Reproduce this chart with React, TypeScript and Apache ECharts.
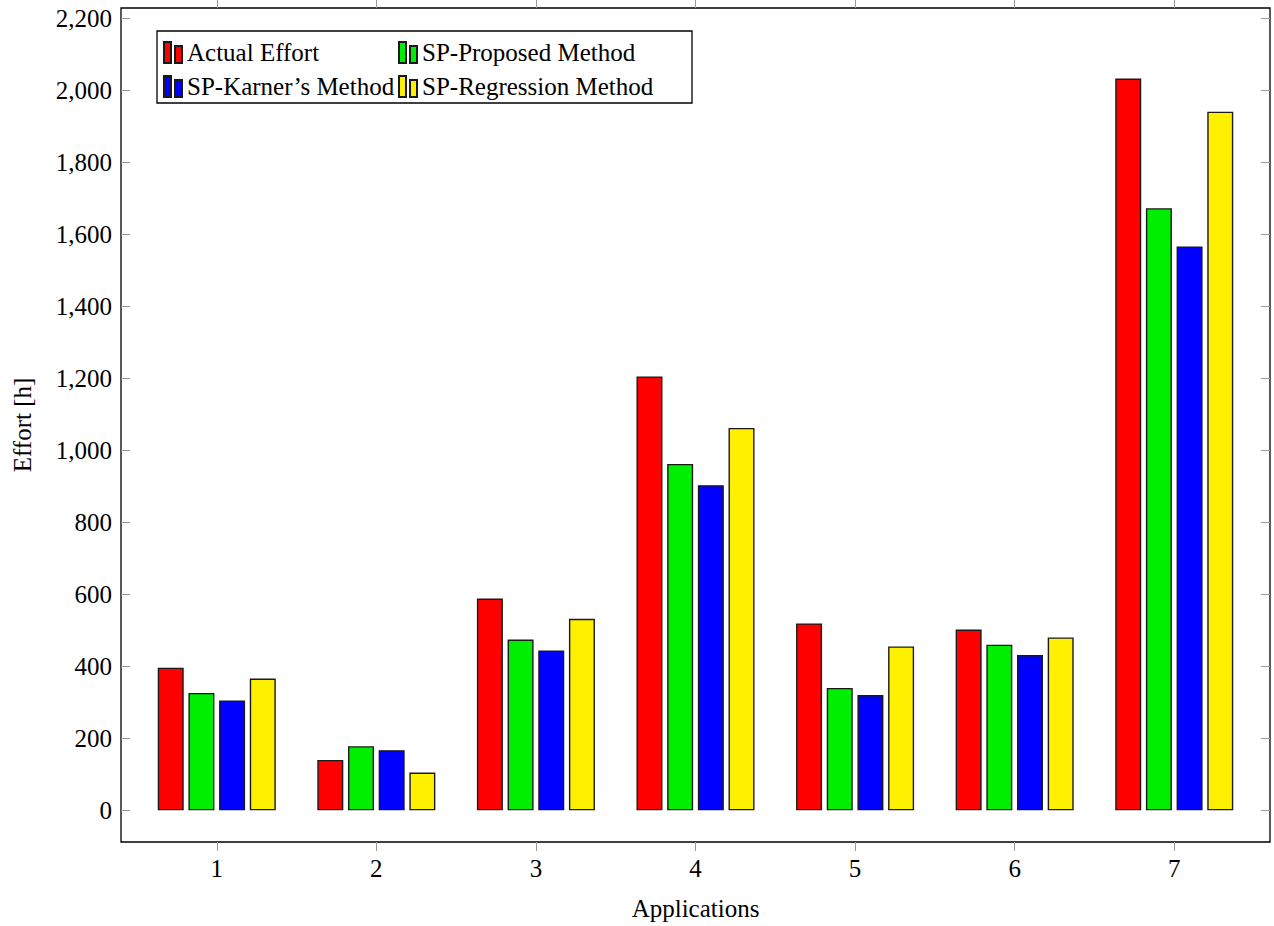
import React, { useEffect, useRef } from "react";
import * as echarts from "echarts";

const categories = [1, 2, 3, 4, 5, 6, 7];
const seriesNames = ["Actual Effort", "SP-Proposed Method", "SP-Karner\u2019s Method", "SP-Regression Method"];
const actualEffort = [396, 140, 588, 1205, 519, 502, 2032];
const spProposed = [326, 178, 474, 962, 340, 460, 1672];
const spKarner = [305, 167, 444, 903, 320, 431, 1566];
const spRegression = [366, 105, 532, 1062, 455, 480, 1940];
const yTicks = [0, 200, 400, 600, 800, 1000, 1200, 1400, 1600, 1800, 2000, 2200];
const colors = ["#ff0000", "#00ee00", "#0000ff", "#fff000"];

const FONT = "Liberation Serif";
const FS = 25;

export default function App() {
  const ref = useRef<HTMLDivElement>(null);
  useEffect(() => {
    if (!ref.current) return;
    const chart = echarts.init(ref.current, null, { renderer: "svg" });
    const values = [actualEffort, spProposed, spKarner, spRegression];
    const tickStyle = { color: "#999", width: 1 };
    const icon = "path://M0,0 h7 v21 h-7 z M11,4 h7 v17 h-7 z";
    const legendPos = [
      { left: 163, top: 40 },
      { left: 398, top: 40 },
      { left: 163, top: 74 },
      { left: 398, top: 74 },
    ];
    chart.setOption({
      animation: false,
      backgroundColor: "#fff",
      grid: {
        left: 121,
        top: 8,
        width: 1149,
        height: 837,
        show: true,
        borderColor: "#000",
        borderWidth: 1.3,
        backgroundColor: "transparent",
      },
      legend: seriesNames.map((n, i) => ({
        data: [n],
        left: legendPos[i].left,
        top: legendPos[i].top,
        padding: 0,
        icon,
        itemWidth: 18,
        itemHeight: 21,
        selectedMode: false,
        textStyle: { fontFamily: FONT, fontSize: FS, color: "#000", padding: [5, 0, 0, 0] },
      })),
      graphic: [
        {
          type: "rect",
          shape: { x: 157, y: 31, width: 535, height: 72 },
          style: { fill: "#fff", stroke: "#000", lineWidth: 1.3 },
          z: 0,
          zlevel: 0,
        },
      ],
      xAxis: [
        {
          type: "value",
          min: 0.4,
          max: 7.6,
          position: "bottom",
          name: "Applications",
          nameLocation: "middle",
          nameGap: 54,
          nameTextStyle: { fontFamily: FONT, fontSize: FS, color: "#000" },
          axisLine: { show: false, onZero: false },
          splitLine: { show: false },
          axisTick: { show: true, inside: false, length: 9, lineStyle: tickStyle, customValues: categories },
          axisLabel: {
            fontFamily: FONT,
            fontSize: FS,
            color: "#000",
            margin: 14,
            customValues: categories,
            formatter: (v: number) => String(v),
          },
        },
        {
          type: "value",
          min: 0.4,
          max: 7.6,
          position: "top",
          axisLine: { show: false, onZero: false },
          splitLine: { show: false },
          axisTick: { show: true, inside: false, length: 9, lineStyle: tickStyle, customValues: categories },
          axisLabel: { show: false },
        },
      ],
      yAxis: [
        {
          type: "value",
          min: -88,
          max: 2228,
          position: "left",
          name: "Effort [h]",
          nameLocation: "middle",
          nameGap: 86,
          nameTextStyle: { fontFamily: FONT, fontSize: FS, color: "#000" },
          axisLine: { show: false, onZero: false },
          splitLine: { show: false },
          axisTick: { show: true, inside: true, length: 9, lineStyle: tickStyle, customValues: yTicks },
          axisLabel: {
            fontFamily: FONT,
            fontSize: FS,
            color: "#000",
            margin: 9,
            customValues: yTicks,
            formatter: (v: number) => v.toLocaleString("en-US"),
          },
        },
        {
          type: "value",
          min: -88,
          max: 2228,
          position: "right",
          axisLine: { show: false, onZero: false },
          splitLine: { show: false },
          axisTick: { show: true, inside: true, length: 9, lineStyle: tickStyle, customValues: yTicks },
          axisLabel: { show: false },
        },
      ],
      series: seriesNames.map((n, i) => ({
        name: n,
        type: "bar",
        xAxisIndex: 0,
        yAxisIndex: 0,
        barWidth: 26,
        barGap: "18%",
        data: categories.map((c, j) => [c, values[i][j]]),
        itemStyle: { color: colors[i], borderColor: "#1a1a1a", borderWidth: 1.4 },
        z: 1,
      })),
    });
    return () => chart.dispose();
  }, []);
  return <div ref={ref} style={{ width: 1274, height: 926, position: "absolute", left: 0, top: 0 }} />;
}
